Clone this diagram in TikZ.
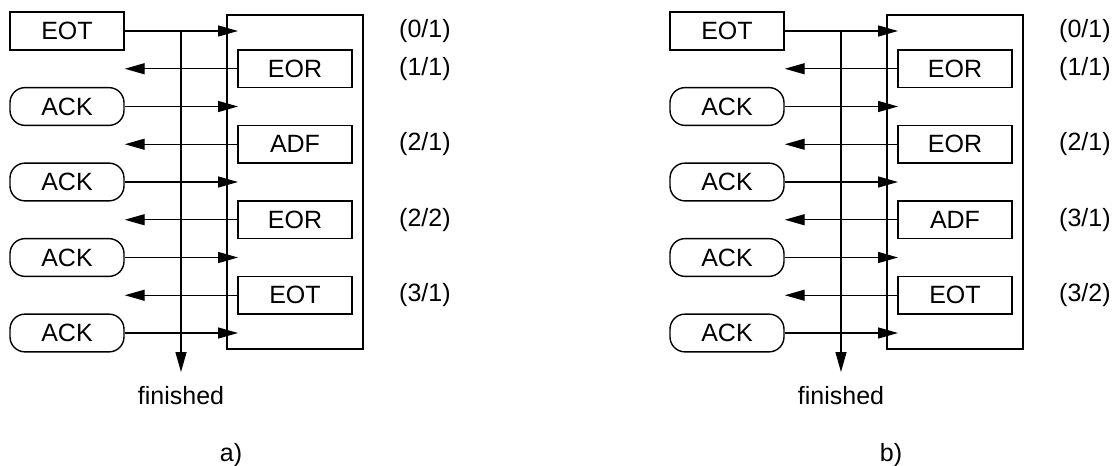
\documentclass[tikz,border=0pt]{standalone}
\usepackage{fontspec}
\setmainfont{Liberation Sans}
\usetikzlibrary{arrows.meta}
\tikzset{
  lw/.style={line width=1.4pt},
  box/.style={draw, lw, minimum width=114pt, minimum height=37.75pt, inner sep=0pt, font=\fontsize{25}{29}\selectfont},
  ack/.style={box, rounded corners=15pt},
  bigbox/.style={draw, lw, minimum width=136pt, minimum height=334pt, inner sep=0pt},
  arr/.style={lw, -{Triangle[length=20pt,width=11pt]}},
  lbl/.style={font=\fontsize{25}{29}\selectfont, inner sep=0pt, anchor=west},
  captxt/.style={font=\fontsize{25}{29}\selectfont, inner sep=0pt}
}
\begin{document}
\begin{tikzpicture}[x=1pt,y=-1pt]
\useasboundingbox (0,0) rectangle (1117,466);
% ---------- panel a ----------
\node[bigbox] (bigA) at (295,182) {};
\coordinate (tipA) at (238,0);
\coordinate (vtopA) at (181,31);
\coordinate (vbotA) at (181,372);
\node[box] (a0) at (67,31) {EOT};
\node[box] (a1) at (295,68.75) {EOR};
\node[ack] (a2) at (67,106.5) {ACK};
\node[box] (a3) at (295,144.25) {ADF};
\node[ack] (a4) at (67,182) {ACK};
\node[box] (a5) at (295,219.75) {EOR};
\node[ack] (a6) at (67,257.5) {ACK};
\node[box] (a7) at (295,295.25) {EOT};
\node[ack] (a8) at (67,333) {ACK};
\draw[arr] (vtopA) -- (vbotA);
\foreach \n in {a0,a2,a4,a6,a8} \draw[arr] (\n.east) -- (\n.east -| tipA);
\foreach \n in {a1,a3,a5,a7} \draw[arr] (\n.west) -- (\n.west -| a0.east);
\node[lbl] (la0) at (399,31) {(0/1)};
\node[lbl] (la1) at (399,68.75) {(1/1)};
\node[lbl] (la3) at (399,144.25) {(2/1)};
\node[lbl] (la5) at (399,219.75) {(2/2)};
\node[lbl] (la7) at (399,295.25) {(3/1)};
\node[captxt] (finA) at (181,396) {finished};
\node[captxt] (capA) at (231,455) {a)};
% ---------- panel b ----------
\node[bigbox] (bigB) at (955,182) {};
\coordinate (tipB) at (898,0);
\coordinate (vtopB) at (841,31);
\coordinate (vbotB) at (841,372);
\node[box] (b0) at (727,31) {EOT};
\node[box] (b1) at (955,68.75) {EOR};
\node[ack] (b2) at (727,106.5) {ACK};
\node[box] (b3) at (955,144.25) {EOR};
\node[ack] (b4) at (727,182) {ACK};
\node[box] (b5) at (955,219.75) {ADF};
\node[ack] (b6) at (727,257.5) {ACK};
\node[box] (b7) at (955,295.25) {EOT};
\node[ack] (b8) at (727,333) {ACK};
\draw[arr] (vtopB) -- (vbotB);
\foreach \n in {b0,b2,b4,b6,b8} \draw[arr] (\n.east) -- (\n.east -| tipB);
\foreach \n in {b1,b3,b5,b7} \draw[arr] (\n.west) -- (\n.west -| b0.east);
\node[lbl] (lb0) at (1059,31) {(0/1)};
\node[lbl] (lb1) at (1059,68.75) {(1/1)};
\node[lbl] (lb3) at (1059,144.25) {(2/1)};
\node[lbl] (lb5) at (1059,219.75) {(3/1)};
\node[lbl] (lb7) at (1059,295.25) {(3/2)};
\node[captxt] (finB) at (841,396) {finished};
\node[captxt] (capB) at (891,455) {b)};
\end{tikzpicture}
\end{document}
